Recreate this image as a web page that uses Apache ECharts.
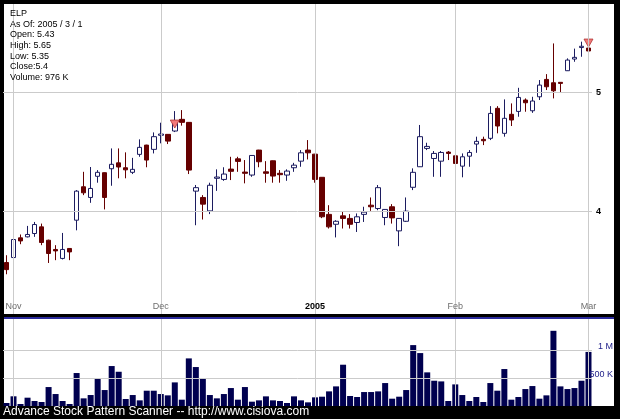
<!DOCTYPE html>
<html><head><meta charset="utf-8">
<script src="https://cdn.jsdelivr.net/npm/echarts@6/dist/echarts.min.js"></script>
<style>html,body{margin:0;padding:0;background:#000}#c{width:620px;height:419px}</style>
</head><body><div id="c"></div>
<script>
const dates = ['2004-10-29',
 '2004-11-01','2004-11-02','2004-11-03','2004-11-04','2004-11-05','2004-11-08','2004-11-09','2004-11-10','2004-11-11','2004-11-12',
 '2004-11-15','2004-11-16','2004-11-17','2004-11-18','2004-11-19','2004-11-22','2004-11-23','2004-11-24','2004-11-26','2004-11-29','2004-11-30',
 '2004-12-01','2004-12-02','2004-12-03','2004-12-06','2004-12-07','2004-12-08','2004-12-09','2004-12-10','2004-12-13','2004-12-14','2004-12-15',
 '2004-12-16','2004-12-17','2004-12-20','2004-12-21','2004-12-22','2004-12-23','2004-12-27','2004-12-28','2004-12-29','2004-12-30','2004-12-31',
 '2005-01-03','2005-01-04','2005-01-05','2005-01-06','2005-01-07','2005-01-10','2005-01-11','2005-01-12','2005-01-13','2005-01-14',
 '2005-01-18','2005-01-19','2005-01-20','2005-01-21','2005-01-24','2005-01-25','2005-01-26','2005-01-27','2005-01-28','2005-01-31',
 '2005-02-01','2005-02-02','2005-02-03','2005-02-04','2005-02-07','2005-02-08','2005-02-09','2005-02-10','2005-02-11',
 '2005-02-14','2005-02-15','2005-02-16','2005-02-17','2005-02-18','2005-02-22','2005-02-23','2005-02-24','2005-02-25','2005-02-28',
 '2005-03-01'];

const opens = [3.633,3.667,3.805,3.812,3.836,3.884,3.788,3.723,3.661,3.730,
 3.933,4.187,4.104,4.270,4.299,4.331,4.379,4.339,4.302,4.449,
 4.527,4.491,4.611,4.619,4.648,4.751,4.724,4.153,4.104,4.002,
 4.254,4.245,4.328,4.412,4.304,4.280,4.485,4.306,4.396,4.294,
 4.280,4.339,4.393,4.485,4.451,4.262,3.976,3.903,3.965,3.946,
 3.916,3.976,4.045,4.020,3.953,4.033,3.855,3.925,4.183,4.347,
 4.499,4.415,4.393,4.468,4.437,4.352,4.434,4.536,4.576,4.585,
 4.850,4.628,4.796,4.822,4.926,4.828,4.956,5.120,5.088,5.092,
 5.204,5.319,5.435,5.43];
const closes = [3.585,3.793,3.783,3.829,3.901,3.772,3.695,3.713,3.723,3.706,
 4.153,4.140,4.174,4.302,4.104,4.367,4.345,4.322,4.326,4.508,
 4.402,4.599,4.622,4.561,4.736,4.724,4.320,4.180,4.053,4.199,
 4.264,4.288,4.310,4.391,4.294,4.440,4.388,4.294,4.272,4.283,
 4.312,4.360,4.462,4.462,4.245,3.958,3.884,3.925,3.946,3.903,
 3.958,3.993,4.033,4.180,4.013,3.950,3.946,4.000,4.302,4.599,
 4.516,4.457,4.465,4.457,4.374,4.429,4.465,4.559,4.564,4.804,
 4.692,4.760,4.745,4.950,4.901,4.917,5.066,5.050,5.012,5.082,
 5.309,5.336,5.448,5.40];
const lows = [3.554,3.592,3.760,3.808,3.812,3.753,3.630,3.649,3.654,3.649,
 3.859,4.122,4.063,4.219,4.013,4.195,4.254,4.254,4.288,4.429,
 4.343,4.457,4.542,4.536,4.639,4.695,4.288,3.896,3.938,3.978,
 4.155,4.234,4.240,4.306,4.214,4.266,4.343,4.219,4.219,4.219,
 4.234,4.306,4.347,4.407,4.219,3.948,3.872,3.808,3.872,3.872,
 3.847,3.920,4.002,4.007,3.896,3.908,3.746,3.920,4.161,4.345,
 4.485,4.266,4.266,4.402,4.306,4.262,4.347,4.462,4.527,4.570,
 4.628,4.599,4.692,4.774,4.819,4.809,4.926,5.019,4.941,4.993,
 5.202,5.292,5.342,5.35];
const highs = [3.683,3.831,3.829,3.891,3.920,3.908,3.792,3.753,3.840,3.732,
 4.161,4.306,4.345,4.320,4.301,4.499,4.499,4.466,4.420,4.576,
 4.530,4.636,4.721,4.621,4.825,4.834,4.726,4.201,4.122,4.219,
 4.326,4.343,4.429,4.429,4.402,4.442,4.487,4.393,4.398,4.320,
 4.326,4.379,4.485,4.570,4.453,4.264,4.045,3.933,3.995,3.978,
 3.983,4.033,4.104,4.201,4.015,4.053,3.948,4.104,4.334,4.701,
 4.547,4.477,4.477,4.477,4.457,4.457,4.485,4.599,4.599,4.870,
 4.870,4.932,4.895,5.040,4.941,4.956,5.114,5.171,5.477,5.093,
 5.326,5.424,5.495,5.65];
const volumes = [54000,175000,36000,150000,90000,72000,342000,216000,90000,36000,
 595000,138000,198000,492000,288000,721000,618000,126000,198000,102000,
 276000,276000,216000,192000,426000,114000,859000,703000,505000,198000,
 138000,216000,324000,114000,342000,78000,102000,174000,102000,90000,
 54000,174000,102000,66000,156000,168000,264000,354000,745000,180000,
 162000,252000,252000,264000,414000,132000,168000,288000,1099000,955000,
 607000,456000,444000,90000,390000,198000,90000,162000,72000,414000,
 276000,667000,114000,162000,306000,360000,132000,192000,1357000,354000,
 306000,324000,456000,976000];

const tickDates = ['2004-11-01','2004-12-01','2005-01-03','2005-02-01','2005-03-01'];
const tickLabels = ['Nov','Dec','2005','Feb','Mar'];
const priceTicks = [4, 5];
const volumeTicks = [500000, 1000000];
const volumeTickLabels = ['500 K', '1 M'];
const signalDates = ['2004-12-03', '2005-03-01'];
const signalValues = [4.674, 5.44];
const infoLines = ['ELP', 'As Of: 2005 / 3 / 1', 'Open: 5.43', 'High: 5.65', 'Low: 5.35', 'Close:5.4', 'Volume: 976 K'];
const footer = 'Advance Stock Pattern Scanner -- http://www.cisiova.com';

const FONT = '"Liberation Sans", Arial, sans-serif';
const GRID = '#cbcbcb';
const candleData = dates.map((d, i) => [opens[i], closes[i], lows[i], highs[i]]);
const vLines = tickDates.map(d => ({ xAxis: d }));

const chart = echarts.init(document.getElementById('c'), null, { renderer: 'canvas' });
chart.setOption({
  animation: false,
  backgroundColor: '#000',
  graphic: [
    { type: 'rect', z: -1, shape: { x: 4, y: 4, width: 610, height: 310 }, style: { fill: '#fff' } },
    { type: 'rect', z: -1, shape: { x: 4, y: 319, width: 610, height: 87 }, style: { fill: '#fff' } },
    { type: 'line', z: -1, shape: { x1: 4, y1: 318, x2: 614, y2: 318 }, style: { stroke: '#3a3ad0', lineWidth: 1.5 } }
  ],
  title: [
    { text: infoLines.join('\n'), left: 10, top: 8, padding: 0,
      textStyle: { fontFamily: FONT, fontSize: 9, lineHeight: 10.7, color: '#000', fontWeight: 'normal' } },
    { text: footer, left: 3, top: 405, padding: 0,
      textStyle: { fontFamily: FONT, fontSize: 12, lineHeight: 13, color: '#fff', fontWeight: 'normal' } }
  ],
  grid: [
    { left: 3, top: 4, width: 589, height: 310 },
    { left: 3, top: 319, width: 589, height: 87 }
  ],
  xAxis: [
    { type: 'category', gridIndex: 0, data: dates, boundaryGap: true, z: 5,
      axisLine: { show: false }, axisTick: { show: false }, splitLine: { show: false },
      axisLabel: { inside: true, margin: 3, fontFamily: FONT, fontSize: 9, color: '#6e6e6e',
        interval: (i, v) => tickDates.indexOf(v) >= 0,
        formatter: (v) => { const k = tickDates.indexOf(v); if (k < 0) return ''; return k === 2 ? '{b|' + tickLabels[k] + '}' : tickLabels[k]; },
        rich: { b: { fontFamily: FONT, fontSize: 9, fontWeight: 'bold', color: '#000' } } } },
    { type: 'category', gridIndex: 1, data: dates, boundaryGap: true, show: false }
  ],
  yAxis: [
    { type: 'log', logBase: 10, gridIndex: 0, min: 3.299, max: 5.897, show: false },
    { type: 'value', gridIndex: 1, min: 0, max: 1570000, interval: 500000, position: 'right', z: 5,
      axisLine: { show: false }, axisTick: { show: false }, splitLine: { show: false },
      axisLabel: { align: 'right', margin: 21, fontFamily: FONT, fontSize: 9, color: '#22228a', verticalAlign: 'bottom', lineHeight: 8,
        formatter: (v) => { const k = volumeTicks.indexOf(v); return k < 0 ? '' : volumeTickLabels[k]; } } }
  ],
  series: [
    { type: 'line', xAxisIndex: 0, yAxisIndex: 0, data: [], z: 1, silent: true,
      markLine: { silent: true, symbol: ['none', 'none'], animation: false,
        lineStyle: { color: GRID, width: 1, type: 'solid' },
        label: { show: false },
        data: vLines.concat(priceTicks.map(p => ({ yAxis: p,
          label: { show: true, position: 'end', distance: 4, formatter: String(p), fontFamily: FONT, fontSize: 9, fontWeight: 'bold', color: '#000' } }))) } },
    { type: 'candlestick', xAxisIndex: 0, yAxisIndex: 0, data: candleData, z: 3, barWidth: 5,
      itemStyle: { color: '#ffffff', color0: '#660000', borderColor: '#1c1c60', borderColor0: '#660000', borderWidth: 1 } },
    { type: 'scatter', xAxisIndex: 0, yAxisIndex: 0, z: 4, silent: true,
      data: signalDates.map((d, i) => [d, signalValues[i]]),
      symbol: 'triangle', symbolRotate: 180, symbolSize: [9, 8], symbolOffset: [0, -4],
      itemStyle: { color: '#f27a7a', borderColor: '#b03535', borderWidth: 0.8, opacity: 1 } },
    { type: 'line', xAxisIndex: 1, yAxisIndex: 1, data: [], z: 1, silent: true,
      markLine: { silent: true, symbol: ['none', 'none'], animation: false,
        lineStyle: { color: GRID, width: 1, type: 'solid' },
        label: { show: false },
        data: vLines.concat(volumeTicks.map(v => ({ yAxis: v }))) } },
    { type: 'bar', xAxisIndex: 1, yAxisIndex: 1, data: volumes, z: 3, barWidth: 6,
      itemStyle: { color: '#00004f' } }
  ]
});
</script></body></html>
